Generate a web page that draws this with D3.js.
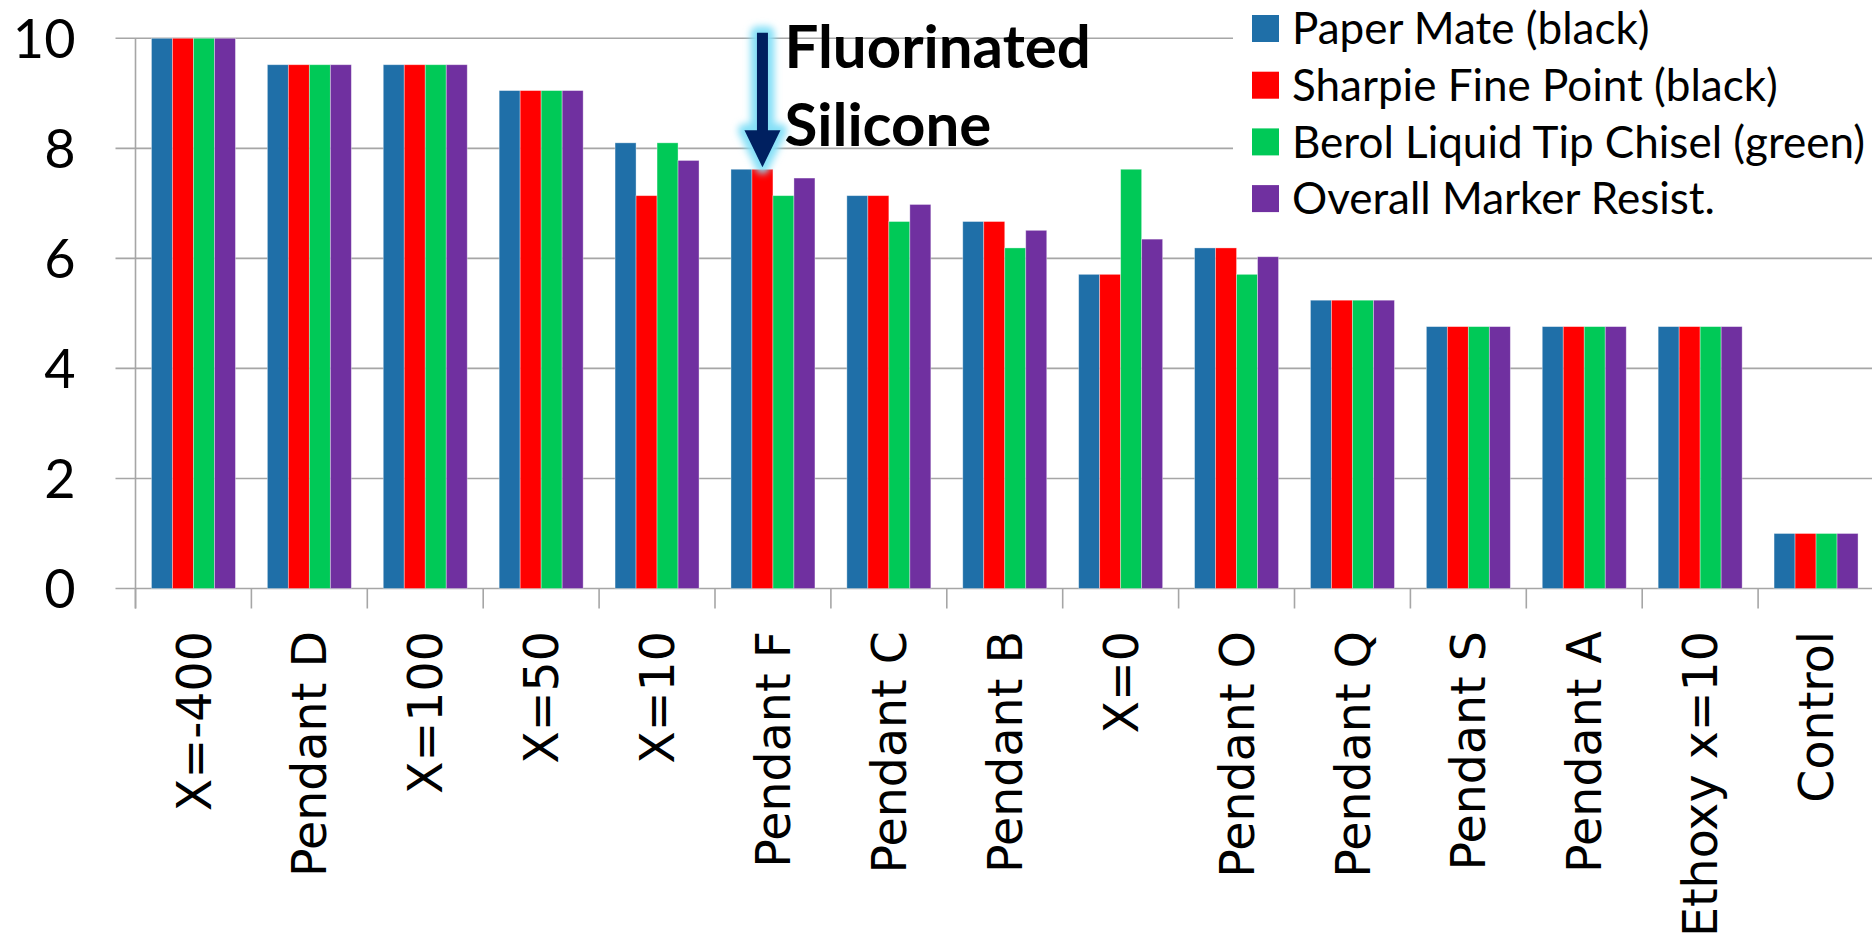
<!DOCTYPE html>
<html>
<head>
<meta charset="utf-8">
<script src="https://cdn.jsdelivr.net/npm/d3@7"></script>
<style>
  html, body { margin: 0; padding: 0; background: #fff; }
  svg { display: block; }
</style>
</head>
<body>
<div id="chart"></div>
<script>
const WIDTH = 1872;
const HEIGHT = 942;
const LEFT = 135.5;
const RIGHT_END = 1874;
const TOP = 38.3;
const ZERO_Y = 588.5;

const categories = [
  'X=-400', 'Pendant D', 'X=100', 'X=50', 'X=10', 'Pendant F', 'Pendant C',
  'Pendant B', 'X=0', 'Pendant O', 'Pendant Q', 'Pendant S', 'Pendant A',
  'Ethoxy x=10', 'Control'
];
const seriesNames = [
  'Paper Mate (black)',
  'Sharpie Fine Point (black)',
  'Berol Liquid Tip Chisel (green)',
  'Overall Marker Resist.'
];
const seriesColors = ['#1f6fa8', '#ff0000', '#00c957', '#7030a0'];

const paperMate  = [10, 9.52, 9.52, 9.05, 8.10, 7.62, 7.14, 6.67, 5.71, 6.19, 5.24, 4.76, 4.76, 4.76, 1];
const sharpie    = [10, 9.52, 9.52, 9.05, 7.14, 7.62, 7.14, 6.67, 5.71, 6.19, 5.24, 4.76, 4.76, 4.76, 1];
const berol      = [10, 9.52, 9.52, 9.05, 8.10, 7.14, 6.67, 6.19, 7.62, 5.71, 5.24, 4.76, 4.76, 4.76, 1];
const overall    = [10, 9.52, 9.52, 9.05, 7.78, 7.46, 6.98, 6.51, 6.35, 6.03, 5.24, 4.76, 4.76, 4.76, 1];
const yTicks = [0, 2, 4, 6, 8, 10];

const annotationLines = ['Fluorinated', 'Silicone'];
const annotationTarget = { category: 'Pendant F', series: 1 };

const values = [paperMate, sharpie, berol, overall];
const GRID = '#a6a6a6';

const svg = d3.select('#chart').append('svg')
  .attr('width', WIDTH)
  .attr('height', HEIGHT);

const x0 = d3.scaleBand()
  .domain(categories)
  .range([LEFT, RIGHT_END])
  .padding(0);

const x1 = d3.scaleBand()
  .domain(d3.range(seriesNames.length))
  .range([0, x0.bandwidth()])
  .paddingInner(0)
  .paddingOuter(0.76);

const y = d3.scaleLinear()
  .domain([0, 10])
  .range([ZERO_Y, TOP]);

// gridlines
svg.append('g').attr('class', 'grid')
  .selectAll('line')
  .data(yTicks)
  .enter()
  .append('line')
  .attr('x1', LEFT - 20)
  .attr('x2', WIDTH)
  .attr('y1', (d) => y(d))
  .attr('y2', (d) => y(d))
  .attr('stroke', GRID)
  .attr('stroke-width', 1.6);

// y axis labels
const yAxis = d3.axisLeft(y)
  .tickValues(yTicks)
  .tickSize(0)
  .tickPadding(60)
  .tickFormat(d3.format('d'));

svg.append('g')
  .attr('transform', `translate(${LEFT}, 0)`)
  .call(yAxis)
  .call((g) => g.select('.domain').remove())
  .call((g) => g.selectAll('text')
    .attr('font-family', 'Lato, sans-serif')
    .attr('font-size', 54)
    .attr('fill', '#000')
    .attr('dy', '0.36em'));

// y axis line
svg.append('line')
  .attr('x1', LEFT).attr('x2', LEFT)
  .attr('y1', y(10)).attr('y2', ZERO_Y + 20)
  .attr('stroke', GRID)
  .attr('stroke-width', 1.6);

// x tick marks at category boundaries
svg.append('g').attr('class', 'xTicks')
  .selectAll('line')
  .data(categories)
  .enter()
  .append('line')
  .attr('x1', (d) => x0(d))
  .attr('x2', (d) => x0(d))
  .attr('y1', ZERO_Y)
  .attr('y2', ZERO_Y + 20)
  .attr('stroke', GRID)
  .attr('stroke-width', 1.6);

// bars
const groups = svg.append('g').attr('class', 'bars')
  .selectAll('g')
  .data(categories)
  .enter()
  .append('g')
  .attr('transform', (d) => `translate(${x0(d)}, 0)`);

groups.selectAll('rect')
  .data((d, i) => values.map((vals, s) => ({ s, v: vals[i] })))
  .enter()
  .append('rect')
  .attr('x', (d) => x1(d.s))
  .attr('width', x1.bandwidth())
  .attr('y', (d) => y(d.v))
  .attr('height', (d) => ZERO_Y - y(d.v))
  .attr('fill', (d) => seriesColors[d.s])
  .attr('stroke', 'rgba(255,255,255,0.45)')
  .attr('stroke-width', 0.8);

// x axis labels
svg.append('g').attr('class', 'xLabels')
  .selectAll('text')
  .data(categories)
  .enter()
  .append('text')
  .attr('transform', (d) => `translate(${x0(d) + x0.bandwidth() / 2}, 631) rotate(-90)`)
  .attr('text-anchor', 'end')
  .attr('dy', '0.36em')
  .attr('font-family', '"DejaVu Sans", sans-serif')
  .attr('font-size', 47.5)
  .attr('fill', '#000')
  .text((d) => d);

// legend
const legend = svg.append('g').attr('class', 'legend')
  .attr('transform', 'translate(1233, 0)');

legend.append('rect')
  .attr('x', 0).attr('y', 0)
  .attr('width', WIDTH - 1233)
  .attr('height', 228)
  .attr('fill', '#fff');

const items = legend.selectAll('g.item')
  .data(seriesNames)
  .enter()
  .append('g')
  .attr('class', 'item')
  .attr('transform', (d, i) => `translate(19, ${15 + i * 56.7})`);

items.append('rect')
  .attr('width', 27)
  .attr('height', 27)
  .attr('fill', (d, i) => seriesColors[i]);

items.append('text')
  .attr('x', 40)
  .attr('y', 13.5)
  .attr('dy', '0.36em')
  .attr('font-family', 'Lato, sans-serif')
  .attr('font-size', 44)
  .attr('fill', '#000')
  .text((d) => d);

// annotation arrow
const defs = svg.append('defs');
const glow = defs.append('filter')
  .attr('id', 'glow')
  .attr('x', '-100%').attr('y', '-50%')
  .attr('width', '300%').attr('height', '200%');
glow.append('feGaussianBlur')
  .attr('in', 'SourceGraphic')
  .attr('stdDeviation', 3.5);

const ti = categories.indexOf(annotationTarget.category);
const tipX = x0(annotationTarget.category) + x1(annotationTarget.series) + x1.bandwidth() / 2;
const tipY = y(values[annotationTarget.series][ti]) - 2;
const shaftTop = y(10.1);
const headH = 37, headW = 36, shaftW = 11;

const arrowPath = [
  [tipX - shaftW / 2, shaftTop],
  [tipX + shaftW / 2, shaftTop],
  [tipX + shaftW / 2, tipY - headH],
  [tipX + headW / 2, tipY - headH],
  [tipX, tipY],
  [tipX - headW / 2, tipY - headH],
  [tipX - shaftW / 2, tipY - headH]
];
const arrowLine = d3.line().curve(d3.curveLinearClosed);

svg.append('path')
  .attr('d', arrowLine(arrowPath))
  .attr('fill', '#86e0f7')
  .attr('stroke', '#86e0f7')
  .attr('stroke-width', 13)
  .attr('stroke-linejoin', 'round')
  .attr('filter', 'url(#glow)');

svg.append('path')
  .attr('d', arrowLine(arrowPath))
  .attr('fill', '#002060');

svg.append('g').attr('class', 'annotation')
  .selectAll('text')
  .data(annotationLines)
  .enter()
  .append('text')
  .attr('x', tipX + 22)
  .attr('y', (d, i) => 68 + i * 78)
  .attr('font-family', 'Lato, sans-serif')
  .attr('font-weight', 'bold')
  .attr('font-size', 60)
  .attr('fill', '#000')
  .text((d) => d);
</script>
</body>
</html>
